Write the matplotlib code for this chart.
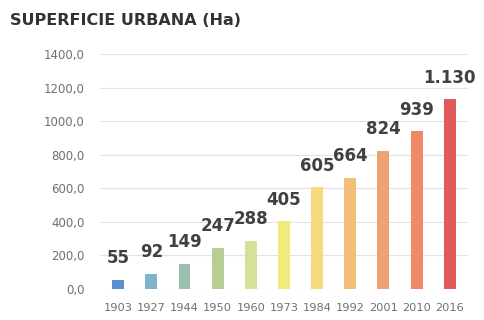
import matplotlib.pyplot as plt
from matplotlib.ticker import FuncFormatter

# Superficie urbana por año (hectáreas)
years = ["1903", "1927", "1944", "1950", "1960", "1973",
         "1984", "1992", "2001", "2010", "2016"]
area_ha = [55, 92, 149, 247, 288, 405, 605, 664, 824, 939, 1130]
value_labels = ["55", "92", "149", "247", "288", "405",
                "605", "664", "824", "939", "1.130"]
bar_colors = ["#5b8fd0", "#80b3c9", "#9dbfb0", "#b6cd96", "#d5e19b", "#f2ea7e",
              "#f6da7c", "#f2bf7b", "#f0a172", "#ee8a66", "#e05a5c"]
y_ticks = [0, 200, 400, 600, 800, 1000, 1200, 1400]

fig = plt.figure(figsize=(4.85, 3.2), dpi=100)
ax = fig.add_axes([0.206, 0.097, 0.759, 0.734])

x = range(len(years))
ax.bar(x, area_ha, width=0.36, color=bar_colors, zorder=2)

for i, (v, lab) in enumerate(zip(area_ha, value_labels)):
    ax.annotate(lab, (i, v), xytext=(0, 9), textcoords="offset points",
                ha="center", va="bottom", fontsize=12, fontweight="bold",
                color="#404040")

ax.set_xlim(-0.55, len(years) - 0.45)
ax.set_ylim(0, 1400)
ax.set_yticks(y_ticks)
ax.yaxis.set_major_formatter(FuncFormatter(lambda v, _: f"{v:.1f}".replace(".", ",")))
ax.set_xticks(list(x))
ax.set_xticklabels(years)
ax.grid(axis="y", color="#e2e2e2", linewidth=0.8, zorder=0)
ax.tick_params(axis="both", length=0, colors="#707070")
ax.tick_params(axis="y", pad=11, labelsize=8.5)
ax.tick_params(axis="x", pad=10, labelsize=8.2)
for spine in ax.spines.values():
    spine.set_visible(False)

fig.text(0.02, 0.935, "SUPERFICIE URBANA (Ha)", fontsize=11.5, fontweight="bold",
         color="#333333", ha="left", va="center")

fig.savefig("out.png", dpi=100)
